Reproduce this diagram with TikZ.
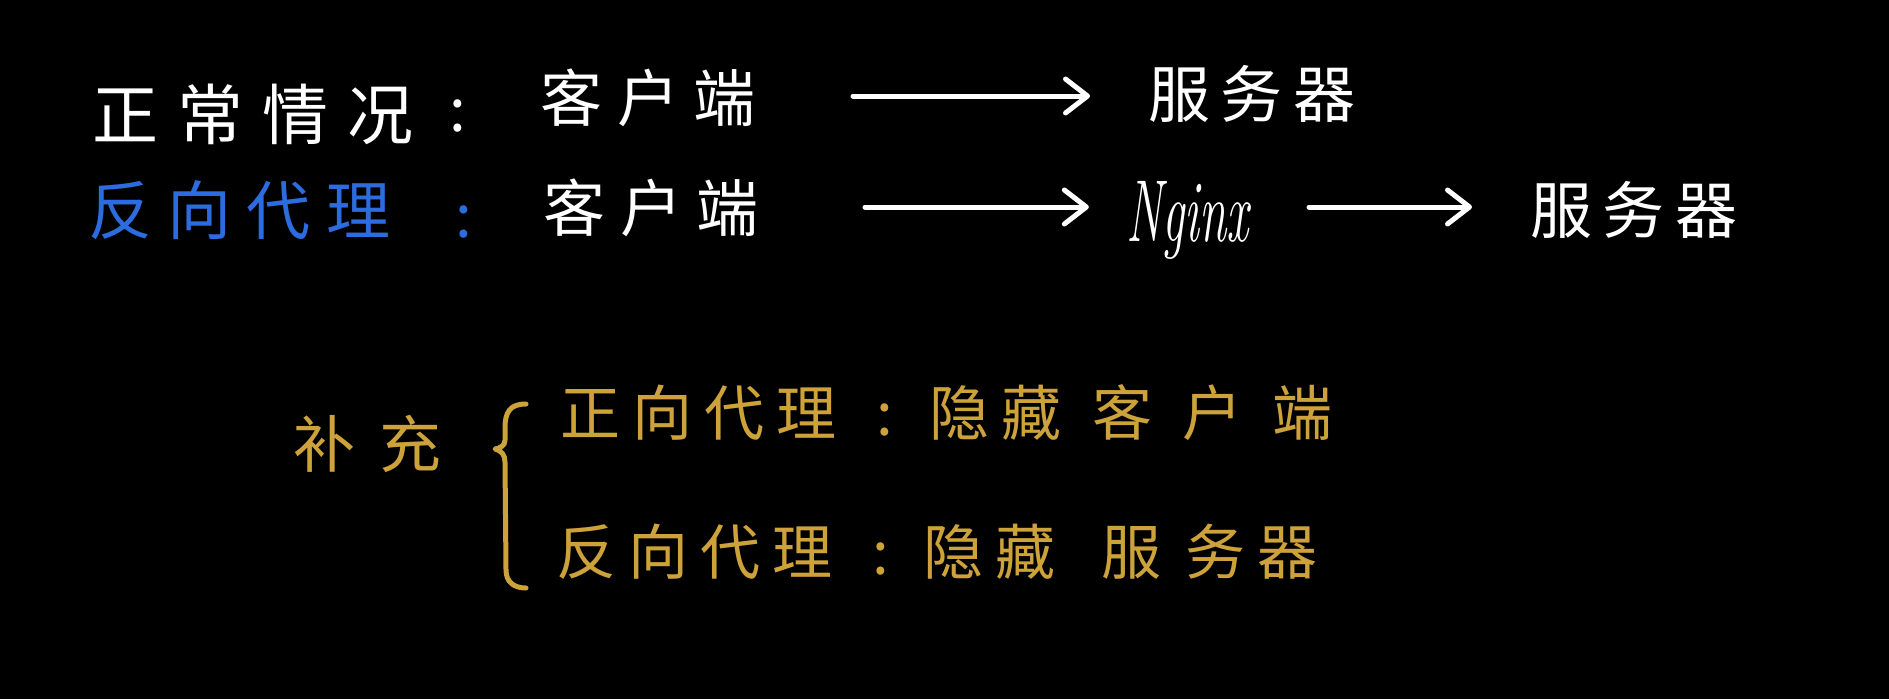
\documentclass[tikz,border=0pt]{standalone}
\usepackage{fontspec}
\newfontfamily\cjkT[LetterSpace=29]{Noto Sans CJK SC}
\newfontfamily\cjkA[LetterSpace=24]{Noto Sans CJK SC}
\newfontfamily\cjkS[LetterSpace=17]{Noto Sans CJK SC}
\newfontfamily\cjkB[LetterSpace=20]{Noto Sans CJK SC}
\newfontfamily\cjkC[LetterSpace=40]{Noto Sans CJK SC}
\usetikzlibrary{arrows.meta}
\definecolor{penblue}{RGB}{44,108,222}
\definecolor{pengold}{RGB}{205,162,58}
\begin{document}
\begin{tikzpicture}[x=1pt,y=-1pt,
  wtxt/.style={text=white, font=\cjkA\fontsize{62}{66}\selectfont, anchor=west, inner sep=0pt},
  stxt/.style={wtxt, font=\cjkS\fontsize{62}{66}\selectfont},
  ttxt/.style={wtxt, font=\cjkT\fontsize{66}{70}\selectfont},
  gtxt/.style={text=pengold, font=\cjkB\fontsize{60}{64}\selectfont, anchor=west, inner sep=0pt},
  colon/.style={font=\cjkA\fontsize{60}{66}\selectfont, anchor=center, inner sep=0pt},
  arr/.style={draw=white, line width=5pt, line cap=round, -{Straight Barb[round, length=22pt, width=34pt]}},
  brace/.style={draw=pengold, line width=5pt, line cap=round, line join=round}]
\fill[black] (0,0) rectangle (1889,699);
\useasboundingbox (0,0) rectangle (1889,699);
% row 1
\node[ttxt] (t1) at (92,114) {正常情况};
\node[colon, text=white] (k1) at (458,116) {:};
\node[wtxt] (c1) at (540,98) {客户端};
\node[stxt] (s1) at (1148,94) {服务器};
\draw[arr] ([xshift=313pt]c1.west |- 0,96) -- ([xshift=-58pt]s1.west |- 0,96);
% row 2
\node[ttxt, text=penblue, font=\cjkA\fontsize{64}{70}\selectfont] (t2) at (88,210) {反向代理};
\node[colon, text=penblue] (k2) at (464,222) {:};
\node[wtxt] (c2) at (543,208) {客户端};
\node[text=white, font=\itshape\fontsize{88}{90}\selectfont, xscale=0.56, anchor=base, inner sep=0pt] (n2) at (1188,241) {Nginx};
\node[stxt] (s2) at (1530,210) {服务器};
\draw[arr] ([xshift=322pt]c2.west |- 0,207) -- ([xshift=-38pt]n2.west |- 0,207);
\draw[arr] ([xshift=-221pt]s2.west |- 0,207) -- ([xshift=-58pt]s2.west |- 0,207);
% supplement
\node[gtxt, font=\cjkC\fontsize{62}{66}\selectfont] (bc) at (293,444) {补充};
\draw[brace] (526,404) .. controls (510,404) and (505,412) .. (505,428) -- (505,440)
  .. controls (505,446) and (500,448) .. (495,449)
  .. controls (502,451) and (505,455) .. (505,462) -- (506,570)
  .. controls (506,582) and (514,588) .. (526,588);
\node[gtxt] (l1) at (560,413) {正向代理\hspace{40pt}:\hspace{37pt}隐藏\hspace{31pt}客\hspace{30pt}户\hspace{30pt}端};
\node[gtxt] (l2) at (556,552) {反向代理\hspace{40pt}:\hspace{35pt}隐藏\hspace{46pt}服\hspace{24pt}务\hspace{12pt}器};
\end{tikzpicture}
\end{document}
